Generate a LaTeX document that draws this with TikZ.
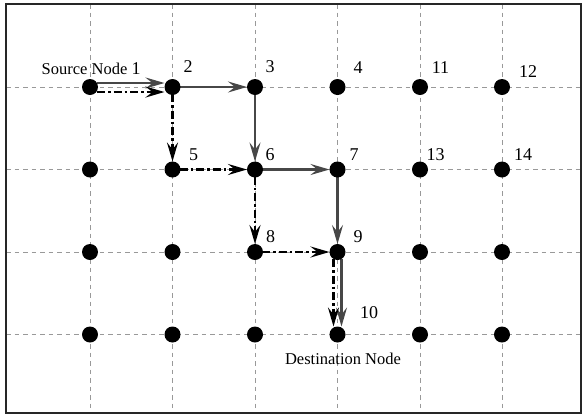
\documentclass[tikz,border=0pt]{standalone}
\usepackage{fontspec}
\setmainfont{Liberation Serif}
\usetikzlibrary{arrows.meta,backgrounds}
\begin{document}
\begin{tikzpicture}[x=1pt,y=-1pt,
  dot/.style={circle,fill=black,inner sep=0pt,minimum size=16pt},
  gridline/.style={draw=gray!80,line width=0.8pt,dash pattern=on 4.5pt off 4pt},
  lbl/.style={font=\fontsize{18}{20}\selectfont,inner sep=0pt,anchor=base},
  captext/.style={font=\fontsize{16.5}{18}\selectfont,inner sep=0pt,anchor=base},
  tip/.style={-{Stealth[length=19pt,width=11pt,inset=7pt]}},
  routeA/.style={tip,draw=black!72,line width=2.2pt,shorten <=7pt,shorten >=8pt},
  routeB/.style={tip,draw=black,line width=2.6pt,dash pattern=on 8pt off 3pt on 2.5pt off 3pt,shorten <=7pt,shorten >=8pt}]
\useasboundingbox (0,0) rectangle (582,416);

% frame corners
\coordinate (frameTL) at (6,4);
\coordinate (frameBR) at (581,413);

% grid of nodes: columns c = 1..6, rows r = 1..4
\foreach \c/\x in {1/90,2/172.5,3/255,4/337.5,5/420,6/502}
  \foreach \r/\y in {1/87,2/169.5,3/252,4/334.5}
    \node[dot] (p\c\r) at (\x,\y) {};

\begin{scope}[on background layer]
  % dashed grid lines through the nodes
  \foreach \c in {1,...,6}
    \draw[gridline] (p\c1 |- frameTL) -- (p\c1 |- frameBR);
  \foreach \r in {1,...,4}
    \draw[gridline] (p1\r -| frameTL) -- (p1\r -| frameBR);

  % first route (solid)
  \draw[routeA] ([yshift=4pt]p11.center) -- ([yshift=4pt]p21.center);
  \draw[routeA] (p21.center) -- (p31.center);
  \draw[routeA] (p31.center) -- (p32.center);
  \draw[routeA] (p32.center) -- (p42.center);
  \draw[routeA] (p42.center) -- (p43.center);
  \draw[routeA] ([xshift=4pt]p43.center) -- ([xshift=4pt]p44.center);

  % second route (dash-dotted)
  \draw[routeB] ([yshift=-5pt]p11.center) -- ([yshift=-5pt]p21.center);
  \draw[routeB] (p21.center) -- (p22.center);
  \draw[routeB] (p22.center) -- (p32.center);
  \draw[routeB] (p32.center) -- (p33.center);
  \draw[routeB] (p33.center) -- (p43.center);
  \draw[routeB] ([xshift=-4pt]p43.center) -- ([xshift=-4pt]p44.center);
\end{scope}

% outer frame
\draw[line width=1.8pt,draw=black!85] (frameTL) rectangle (frameBR);

% node labels
\node[captext] (tsrc) at (84.5,74) {Source Node};
\node[lbl] (t1) at (136,74) {1};
\node[lbl] (t2) at (188,72) {2};
\node[lbl] (t3) at (270,72) {3};
\node[lbl] (t4) at (358,73) {4};
\node[lbl] (t11) at (440.5,73) {11};
\node[lbl] (t12) at (528,77) {12};
\node[lbl] (t5) at (193.5,160) {5};
\node[lbl] (t6) at (270,160) {6};
\node[lbl] (t7) at (354,160) {7};
\node[lbl] (t13) at (435.5,160) {13};
\node[lbl] (t14) at (523,160) {14};
\node[lbl] (t8) at (270.5,242) {8};
\node[lbl] (t9) at (358,242) {9};
\node[lbl] (t10) at (369,318.5) {10};
\node[captext] (tdst) at (343,364) {Destination Node};
\end{tikzpicture}
\end{document}
